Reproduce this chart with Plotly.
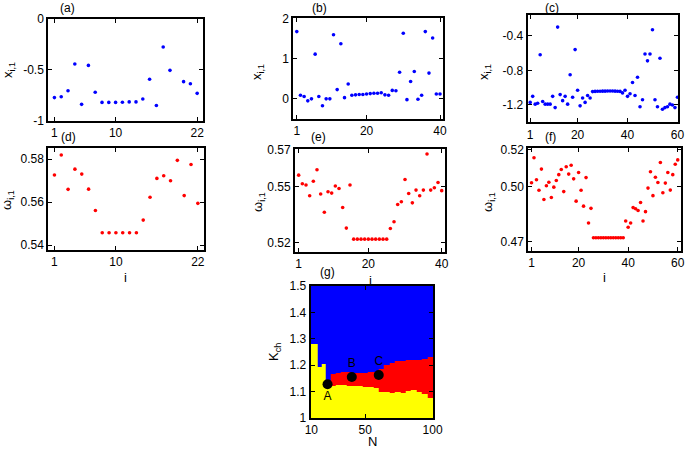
import plotly.graph_objects as go

# ---------------- data ----------------
a_x = [-0.773, -0.764, -0.705, -0.443, -0.839, -0.456, -0.72, -0.82, -0.82, -0.82, -0.818,
       -0.815, -0.815, -0.787, -0.593, -0.85, -0.275, -0.505, None, -0.616, -0.636, -0.731]
d_w = [0.5726, 0.5819, 0.5659, 0.5753, 0.573, 0.566, 0.5561, 0.5457, 0.5457, 0.5457, 0.5457,
       0.5457, 0.5457, 0.5516, 0.5622, 0.571, 0.5722, 0.5699, 0.5794, 0.563, 0.5775, 0.5594]

b_x = [1.67, 0.09, 0.06, -0.05, 0.0, 1.11, 0.06, -0.17, 0.0, 0.0, 1.59, 0.23, 1.37, 0.03, 0.37,
       0.09, 0.10, 0.11, 0.11, 0.12, 0.13, 0.14, 0.14, 0.15, 0.10, 0.09, 0.21, 0.20, 0.66, 1.63,
       -0.02, 0.43, 0.68, -0.01, 0.09, 1.67, 0.64, 1.51, 0.12, 0.12]
e_w = [0.5562, 0.5516, 0.5509, 0.5452, 0.5529, 0.5591, 0.5461, 0.5364, 0.5473, 0.5466, 0.5504,
       0.5491, 0.5389, 0.5279, 0.5509, 0.522, 0.522, 0.522, 0.522, 0.522, 0.522, 0.522, 0.522,
       0.522, 0.522, 0.5277, 0.5313, 0.5405, 0.5420, 0.5539, 0.5464, 0.5414, 0.5482, 0.5452,
       0.5482, 0.5675, 0.5482, 0.5495, 0.5523, 0.5479]

c_x = [-1.17, -1.10, -1.19, -1.18, -0.62, -1.16, -1.19, -1.19, -1.19, -1.10, -1.23, -0.30,
       -1.08, -1.15, -1.10, -1.19, -0.85, -1.11, -0.56, -1.03, -1.21, -1.12, -1.17, -1.09,
       -1.12, -1.045, -1.043, -1.042, -1.041, -1.040, -1.040, -1.039, -1.039, -1.039, -1.040,
       -1.041, -1.043, -1.06, -1.03, -1.10, -1.07, -0.94, -1.09, -0.88, -1.22, -1.14, -0.61,
       -0.69, -0.61, -0.33, -1.14, -1.22, -0.66, -1.25, -1.23, -1.22, -1.19, -1.20, -1.23, -1.11]
f_w = [0.502, 0.5156, 0.5036, 0.4979, 0.5094, 0.4929, 0.5004, 0.5023, 0.494, 0.4996, 0.5032,
       0.5064, 0.5092, 0.4972, 0.5107, 0.5067, 0.5115, 0.5041, 0.492, 0.5076, 0.4979, 0.4893,
       0.5048, 0.4801, 0.4881, 0.4721, 0.4721, 0.4721, 0.4721, 0.4721, 0.4721, 0.4721, 0.4721,
       0.4721, 0.4721, 0.4721, 0.4721, 0.4721, 0.4812, 0.4778, 0.4801, 0.4885, 0.4879, 0.4869,
       0.4913, 0.4812, 0.4863, 0.4991, 0.508, 0.495, 0.505, 0.5021, 0.513, 0.4966, 0.5018,
       0.5076, 0.498, 0.5064, 0.512, 0.5144]

# panel (g): phase diagram, column edges in N and boundaries in K_ch
g_N_edges = [9.5, 14.5, 17.5, 20.5, 24, 28, 32, 36, 40, 44, 48, 52, 56, 60, 64, 68, 72, 76,
             80, 84, 88, 92, 96, 100.5]
g_yellow_top = [1.28, 1.195, 1.205, 1.121, 1.123, 1.126, 1.124, 1.123, 1.123, 1.121, 1.117,
                1.117, 1.113, 1.100, 1.100, 1.096, 1.098, 1.096, 1.103, 1.108, 1.100, 1.092, 1.075]
g_red_top = [1.28, 1.195, 1.205, 1.138, 1.165, 1.171, 1.172, 1.174, 1.171, 1.170, 1.171,
             1.174, 1.176, 1.184, 1.200, 1.211, 1.214, 1.218, 1.219, 1.221, 1.221, 1.224, 1.23]
g_K_min, g_K_max, g_K_step = 1.0, 1.5, 0.0025
pts_N = [22, 40, 60]
pts_K = [1.128, 1.155, 1.163]
pts_lab = ["A", "B", "C"]

# ---------------- layout helpers ----------------
W, H = 685, 449
FONT = "Liberation Sans, Arial, Helvetica, sans-serif"

def xd(l, r):
    return [l / W, r / W]

def yd(t, b):
    return [1 - b / H, 1 - t / H]

fig = go.Figure()

panels = [
    (a_x, "blue", (48.3, 203.3), (19, 120.7), [0.1, 22.9], [-1, 0], [1, 10, 22], [-1, -0.5, 0], ["-1", "-0.5", "0"]),
    (b_x, "blue", (293.3, 443.3), (18.3, 119), [0.05, 40.9], [-0.5, 2], [1, 20, 40], [0, 1, 2], ["0", "1", "2"]),
    (c_x, "blue", (527.7, 677.7), (15, 122.3), [0, 60.1], [-1.4, -0.16], [1, 20, 40, 60], [-1.2, -0.8, -0.4], ["-1.2", "-0.8", "-0.4"]),
    (d_w, "red", (48.3, 204), (148.3, 250), [0.1, 22.9], [0.5377, 0.585], [1, 10, 22], [0.54, 0.56, 0.58], ["0.54", "0.56", "0.58"]),
    (e_w, "red", (295, 445), (149.3, 251.7), [0.0, 40.9], [0.5153, 0.57], [1, 20, 40], [0.52, 0.55, 0.57], ["0.52", "0.55", "0.57"]),
    (f_w, "red", (528.3, 680.7), (148.3, 250.7), [-0.3, 61.2], [0.4651, 0.5207], [1, 20, 40, 60], [0.47, 0.50, 0.52], ["0.47", "0.50", "0.52"]),
]

axis_common = dict(showline=True, linewidth=2, linecolor="black", mirror="allticks",
                   ticks="inside", ticklen=4, tickwidth=1, tickcolor="black",
                   showgrid=False, zeroline=False, automargin=False,
                   ticklabeloverflow="allow",
                   tickfont=dict(family=FONT, size=12, color="black"))

layout = {}
for k, (vals, col, xb, yb, xr, yr, xt, yt, ytt) in enumerate(panels, start=1):
    sfx = "" if k == 1 else str(k)
    idx = list(range(1, len(vals) + 1))
    fig.add_trace(go.Scatter(x=idx, y=vals, mode="markers",
                             marker=dict(color=col, size=3.6, line=dict(width=0)),
                             xaxis="x" + sfx, yaxis="y" + sfx, showlegend=False,
                             cliponaxis=False))
    layout["xaxis" + sfx] = dict(domain=xd(*xb), range=xr, anchor="y" + sfx,
                                 tickvals=xt, ticktext=[str(v) for v in xt], **axis_common)
    layout["yaxis" + sfx] = dict(domain=yd(*yb), range=yr, anchor="x" + sfx,
                                 tickvals=yt, ticktext=ytt, **axis_common)

# panel (g) heatmap
n_rows = int(round((g_K_max - g_K_min) / g_K_step))
K_edges = [g_K_min + r * g_K_step for r in range(n_rows + 1)]
z = []
for r in range(n_rows):
    kc = (K_edges[r] + K_edges[r + 1]) / 2
    row = []
    for c in range(len(g_yellow_top)):
        if kc < g_yellow_top[c]:
            row.append(0)
        elif kc < g_red_top[c]:
            row.append(1)
        else:
            row.append(2)
    z.append(row)

cs = [[0, "rgb(255,255,0)"], [0.3333, "rgb(255,255,0)"], [0.3333, "rgb(255,0,0)"],
      [0.6667, "rgb(255,0,0)"], [0.6667, "rgb(0,0,255)"], [1, "rgb(0,0,255)"]]
fig.add_trace(go.Heatmap(x=g_N_edges, y=K_edges, z=z, colorscale=cs, zmin=0, zmax=2,
                         showscale=False, xaxis="x7", yaxis="y7", hoverinfo="skip"))
fig.add_trace(go.Scatter(x=pts_N, y=pts_K, mode="markers+text", text=pts_lab,
                         textposition=["bottom center", "top center", "top center"],
                         textfont=dict(family=FONT, size=12, color="black"),
                         marker=dict(color="black", size=10),
                         xaxis="x7", yaxis="y7", showlegend=False))
layout["xaxis7"] = dict(domain=xd(310.7, 433.3), range=[9.5, 100.5], anchor="y7",
                        tickvals=[10, 50, 100], ticktext=["10", "50", "100"], **axis_common)
layout["yaxis7"] = dict(domain=yd(286, 418), range=[1, 1.5], anchor="x7",
                        tickvals=[1, 1.1, 1.2, 1.3, 1.4, 1.5],
                        ticktext=["1", "1.1", "1.2", "1.3", "1.4", "1.5"], **axis_common)

ann = []
def txt(x, y, s, size=12, angle=0):
    ann.append(dict(x=x / W, y=1 - y / H, xref="paper", yref="paper", text=s,
                    showarrow=False, textangle=angle, xanchor="center", yanchor="middle",
                    font=dict(family=FONT, size=size, color="black")))

for lab, x, y in [("(a)", 67, 8), ("(b)", 319, 8), ("(c)", 552, 8), ("(d)", 68, 137),
                  ("(e)", 318, 137), ("(f)", 550, 137), ("(g)", 327, 272)]:
    txt(x, y, lab, 12)
for x, y in [(8, 70), (257, 72), (484, 72)]:
    txt(x, y, "x<sub>i,1</sub>", 13, -90)
for x, y in [(7, 200), (258, 202), (488, 202)]:
    txt(x, y, "ω<sub>i,1</sub>", 13, -90)
for x, y in [(126, 277), (370, 280), (604, 277)]:
    txt(x, y, "i", 13)
txt(372, 441, "N", 13)
txt(274, 352, "K<sub>ch</sub>", 13, -90)

fig.update_layout(width=W, height=H, margin=dict(l=0, r=0, t=0, b=0),
                  paper_bgcolor="white", plot_bgcolor="white", annotations=ann,
                  showlegend=False, **layout)
fig.write_html("out.html", config={"displayModeBar": False},
               post_script="document.body.style.margin='0';document.body.style.padding='0';")
